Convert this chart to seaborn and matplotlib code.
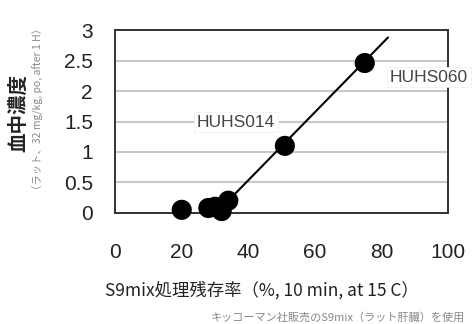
import matplotlib
matplotlib.use("Agg")
import matplotlib.pyplot as plt
import seaborn as sns
import pandas as pd

# values
residual_pct = [20, 28, 30, 32, 34, 51, 75]
blood_conc = [0.05, 0.08, 0.1, 0.03, 0.2, 1.1, 2.46]
fit_x = [34, 82]
fit_y = [0.2, 2.88]
x_ticks = [0, 20, 40, 60, 80, 100]
y_ticks = [0, 0.5, 1, 1.5, 2, 2.5, 3]
y_tick_labels = ["0", "0.5", "1", "1.5", "2", "2.5", "3"]
labels = ["HUHS014", "HUHS060"]

sns.set_style("white")
plt.rcParams["font.family"] = ["Noto Sans CJK JP", "DejaVu Sans"]
num_font = ["Liberation Sans"]

df = pd.DataFrame({"x": residual_pct, "y": blood_conc})
fit = pd.DataFrame({"x": fit_x, "y": fit_y})

fig = plt.figure(figsize=(4.76, 3.24), dpi=100)
ax = fig.add_axes([0.242, 0.343, 0.699, 0.564])

for yv in y_ticks[1:-1]:
    ax.axhline(yv, color="#c8c8c8", lw=1.5, zorder=0)

sns.lineplot(data=fit, x="x", y="y", color="black", lw=1.5, ax=ax, zorder=2)
sns.scatterplot(data=df, x="x", y="y", color="black", s=210, edgecolor="none",
                ax=ax, zorder=3, clip_on=False)

ax.set_xlim(0, 100)
ax.set_ylim(0, 3)
ax.set_xticks(x_ticks)
ax.set_yticks(y_ticks)
ax.set_yticklabels(y_tick_labels)
ax.tick_params(axis="x", direction="in", length=4, width=0.8, color="#999999",
               pad=22, labelsize=15)
ax.tick_params(axis="y", length=0, pad=16, labelsize=15)
for lab in ax.get_xticklabels() + ax.get_yticklabels():
    lab.set_family(num_font)
    lab.set_color("#222222")
ax.set_xlabel("")
ax.set_ylabel("")
for sp in ax.spines.values():
    sp.set_color("#333333")
    sp.set_linewidth(1.4)

box = dict(facecolor="white", edgecolor="#eeeeee", pad=2, lw=0.5)
ax.text(36.3, 1.49, labels[0], fontsize=12.5, color="#444444", family=num_font,
        ha="center", va="center", bbox=box, zorder=4)
ax.text(82.5, 2.23, labels[1], fontsize=12.5, color="#444444", family=num_font,
        ha="left", va="center", bbox=box, zorder=4, clip_on=False)

fig.text(0.038, 0.652, "血中濃度", rotation=90, fontsize=14, fontweight="bold",
         ha="center", va="center", color="#222222")
fig.text(0.08, 0.664, "（ラット、32 mg/kg, po, after 1 H）", rotation=90,
         fontsize=7.5, ha="center", va="center", color="#888888")
fig.text(0.551, 0.105, "S9mix処理残存率（%, 10 min, at 15 C）", fontsize=12.5,
         ha="center", va="center", color="#222222")
fig.text(0.977, 0.02, "キッコーマン社販売のS9mix（ラット肝臓）を使用", fontsize=8,
         ha="right", va="center", color="#888888")

fig.savefig("out.png", dpi=100)
